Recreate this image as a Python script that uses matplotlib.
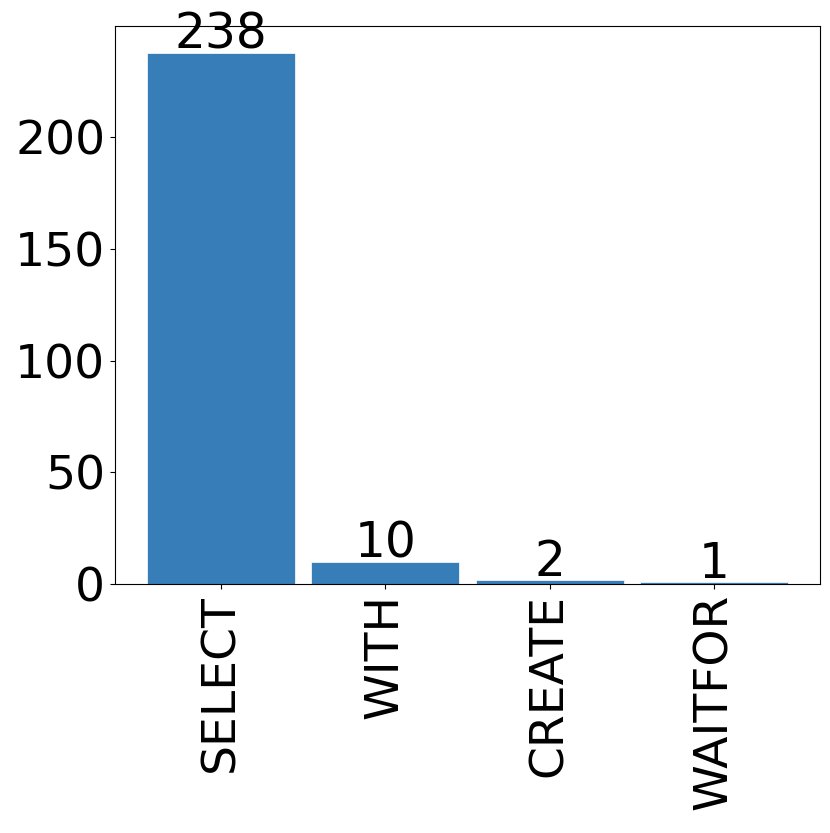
import matplotlib
matplotlib.use("Agg")
import matplotlib.pyplot as plt

categories = ["SELECT", "WITH", "CREATE", "WAITFOR"]
counts = [238, 10, 2, 1]

fig = plt.figure(figsize=(8.30, 8.33), dpi=100)
ax = fig.add_axes([115/830, 1-584/833, (820-115)/830, (584-26)/833])
bars = ax.bar(range(len(categories)), counts, width=0.9, color="#377eb8",
              edgecolor="white", linewidth=0.5)
for i, v in enumerate(counts):
    ax.annotate(str(v), (i, v), xytext=(0, 4), textcoords="offset pixels",
                ha="center", va="baseline", fontsize=35)
ax.set_xticks(range(len(categories)))
ax.set_xticklabels(categories, rotation=90, fontsize=34)
ax.tick_params(axis="y", labelsize=34)
fig.savefig("out.png", dpi=100)
